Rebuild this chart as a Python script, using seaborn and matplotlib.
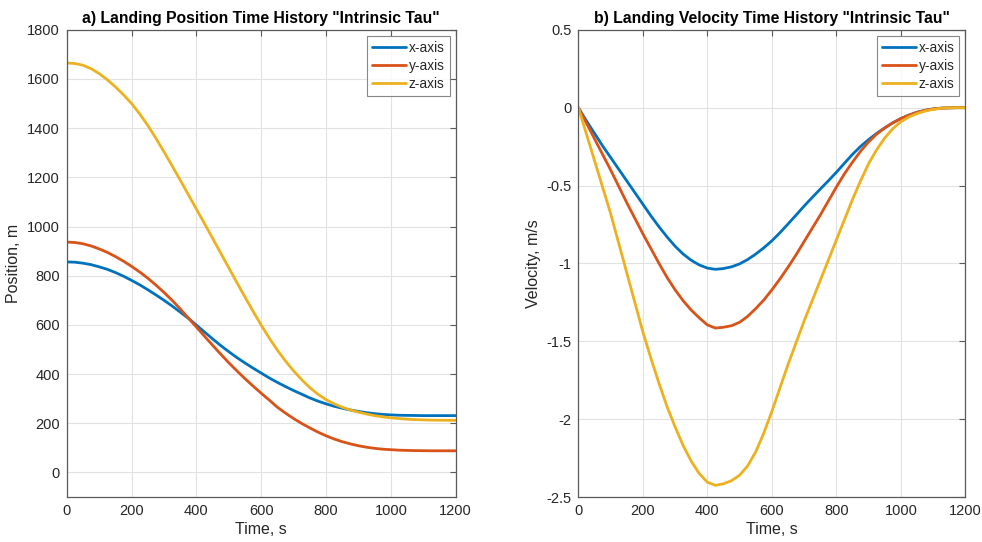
import numpy as np
import pandas as pd
import matplotlib
matplotlib.use("Agg")
import matplotlib.pyplot as plt
from matplotlib.ticker import FuncFormatter
import seaborn as sns

# Sample times of the landing trajectory, s (every 25 s)
time_s = list(range(0, 1201, 25))

# Position components, m
pos_x = [856, 855, 851, 845, 836, 826, 813, 798, 781, 763, 743, 722, 700,
         677, 652, 627, 599, 571, 543, 516, 491, 467, 445, 424, 404,
         384, 366, 349, 333, 318, 303, 290, 279, 269, 261, 254, 248,
         243, 239, 236, 234, 232.5, 232, 231.5, 231, 231, 231, 231, 231]
pos_y = [937, 935, 930, 921, 909, 895, 878, 859, 838, 815, 790, 762, 732,
         700, 665, 628, 591, 554, 517, 481, 446, 413, 381, 351, 322,
         294, 265, 241, 219, 199, 181, 164, 149, 136, 125, 116, 108.5,
         102.5, 98, 94.5, 92.5, 90.5, 89.5, 88.8, 88.3, 88, 88, 88, 88]
pos_z = [1665, 1663, 1656, 1642, 1622, 1597, 1568, 1536, 1500, 1458, 1411, 1359, 1304,
         1247, 1189, 1130, 1071, 1012, 952, 892, 832, 772, 713, 655, 599,
         546, 497, 453, 413, 377, 345, 318, 296, 279, 265, 254, 245,
         237.5, 231, 226, 222, 219, 216.5, 214.8, 213.6, 212.7, 212.2, 212, 212]

# Velocity components, m/s
vel_x = [0, -0.085, -0.165, -0.245, -0.32, -0.395, -0.47, -0.545, -0.62, -0.695, -0.765,
         -0.83, -0.89, -0.94, -0.98, -1.01, -1.03, -1.038, -1.033, -1.022, -1.003,
         -0.975, -0.94, -0.9, -0.855, -0.803, -0.747, -0.69, -0.632, -0.577, -0.523,
         -0.47, -0.415, -0.357, -0.30, -0.249, -0.205, -0.165, -0.13, -0.098, -0.07,
         -0.048, -0.03, -0.017, -0.008, -0.003, -0.001, 0, 0]
vel_y = [0, -0.10, -0.20, -0.30, -0.40, -0.505, -0.61, -0.71, -0.81, -0.905, -1.00,
         -1.09, -1.17, -1.24, -1.30, -1.35, -1.395, -1.415, -1.41, -1.40, -1.378,
         -1.34, -1.29, -1.235, -1.17, -1.10, -1.025, -0.945, -0.86, -0.775, -0.69,
         -0.60, -0.51, -0.425, -0.35, -0.28, -0.22, -0.17, -0.13, -0.097, -0.07,
         -0.048, -0.03, -0.017, -0.008, -0.003, -0.001, 0, 0]
vel_z = [0, -0.17, -0.34, -0.51, -0.68, -0.87, -1.06, -1.25, -1.44, -1.61, -1.77,
         -1.92, -2.05, -2.17, -2.27, -2.35, -2.405, -2.425, -2.415, -2.395, -2.36,
         -2.30, -2.21, -2.09, -1.95, -1.80, -1.65, -1.51, -1.37, -1.24, -1.11,
         -0.98, -0.85, -0.72, -0.59, -0.47, -0.36, -0.27, -0.195, -0.135, -0.09,
         -0.06, -0.038, -0.022, -0.011, -0.004, -0.001, 0, 0]

axis_names = ["x-axis", "y-axis", "z-axis"]
line_colors = ["#0072BD", "#D95319", "#EDB120"]

pos_ticks = [0, 200, 400, 600, 800, 1000, 1200, 1400, 1600, 1800]
vel_ticks = [-2.5, -2, -1.5, -1, -0.5, 0, 0.5]
time_ticks = [0, 200, 400, 600, 800, 1000, 1200]


def long_form(series):
    frames = []
    for name, values in zip(axis_names, series):
        frames.append(pd.DataFrame({"Time": time_s, "Value": values, "Axis": name}))
    return pd.concat(frames, ignore_index=True)


pos_df = long_form([pos_x, pos_y, pos_z])
vel_df = long_form([vel_x, vel_y, vel_z])

sns.set_theme(style="white")
plt.rcParams["font.family"] = ["Liberation Sans", "DejaVu Sans"]
plt.rcParams["axes.unicode_minus"] = False

fig = plt.figure(figsize=(9.82, 5.42), dpi=100)
fig.patch.set_facecolor("white")
ax1 = fig.add_axes([0.068, 0.083, 0.396, 0.862])
ax2 = fig.add_axes([0.589, 0.083, 0.394, 0.862])

edge = "#5a5a5a"
text_col = "#262626"


def style_axes(ax, title, ylabel, yticks, ylim, fmt=None):
    ax.set_xlim(0, 1200)
    ax.set_ylim(*ylim)
    ax.set_xticks(time_ticks)
    ax.set_yticks(yticks)
    if fmt is not None:
        ax.yaxis.set_major_formatter(fmt)
    ax.grid(True, color="#e2e2e2", linewidth=0.8)
    ax.set_axisbelow(True)
    for sp in ax.spines.values():
        sp.set_visible(True)
        sp.set_color(edge)
        sp.set_linewidth(0.9)
    ax.tick_params(direction="in", length=4, width=0.8, color=edge,
                   top=True, right=True, labelsize=10.5, labelcolor=text_col, pad=5)
    ax.set_title(title, fontsize=11.3, fontweight="bold", color="black", pad=5)
    ax.set_xlabel("Time, s", fontsize=11.5, color=text_col, labelpad=3)
    ax.set_ylabel(ylabel, fontsize=11.5, color=text_col, labelpad=4)
    handles, labels = ax.get_legend_handles_labels()
    leg = ax.legend(handles, labels, loc="upper right", fontsize=9.8,
                    frameon=True, fancybox=False, edgecolor="#6a6a6a",
                    handlelength=2.5, handletextpad=0.2, borderpad=0.35,
                    labelspacing=0.3, borderaxespad=0.45)
    leg.get_frame().set_linewidth(0.8)
    for t in leg.get_texts():
        t.set_color(text_col)


sns.lineplot(data=pos_df, x="Time", y="Value", hue="Axis", palette=line_colors,
             linewidth=2, ax=ax1, sort=False)
sns.lineplot(data=vel_df, x="Time", y="Value", hue="Axis", palette=line_colors,
             linewidth=2, ax=ax2, sort=False)

style_axes(ax1, 'a) Landing Position Time History "Intrinsic Tau"', "Position, m",
           pos_ticks, (-100, 1800))
style_axes(ax2, 'b) Landing Velocity Time History "Intrinsic Tau"', "Velocity, m/s",
           vel_ticks, (-2.5, 0.5), FuncFormatter(lambda v, _: f"{v:g}"))

fig.savefig("out.png", dpi=100, facecolor="white")
